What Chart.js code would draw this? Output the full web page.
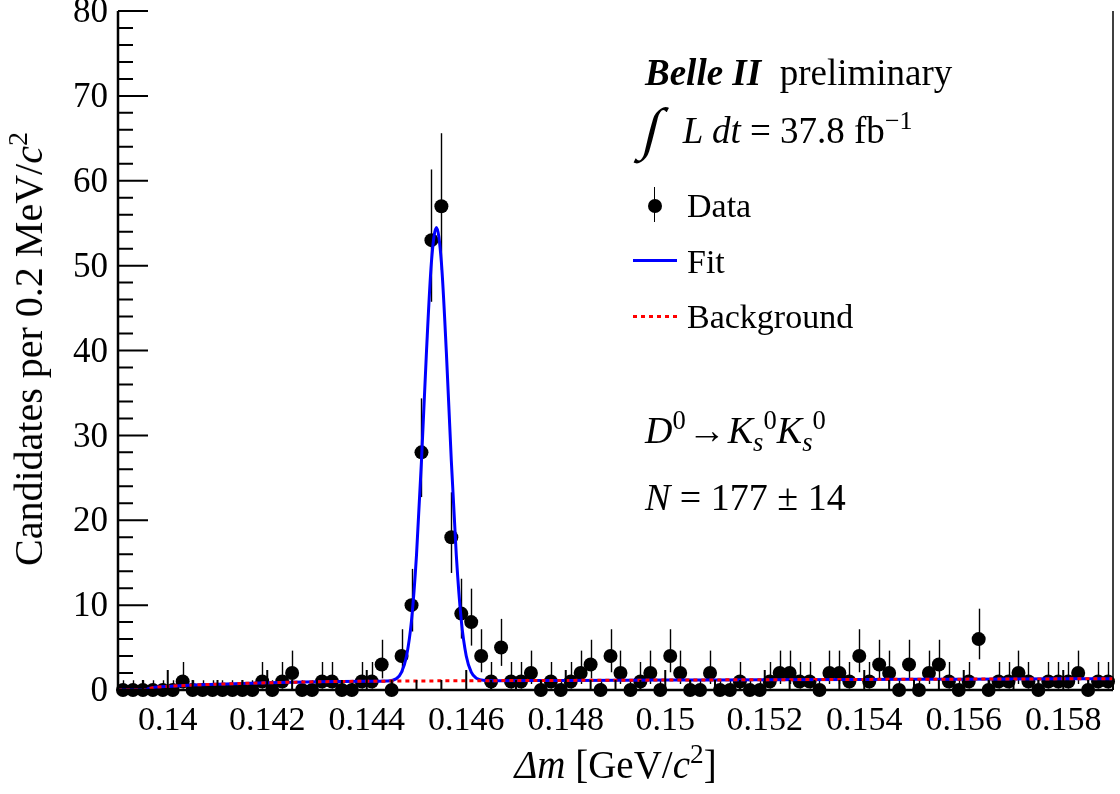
<!DOCTYPE html>
<html>
<head>
<meta charset="utf-8">
<title>D0 -> Ks Ks delta m fit</title>
<script src="https://cdn.jsdelivr.net/npm/chart.js@4.4.1/dist/chart.umd.min.js"></script>
<style>
    html, body { margin: 0; padding: 0; background: #fff; }
    #wrap { position: relative; width: 1120px; height: 794px; overflow: hidden;
            font-family: "Liberation Serif", "Times New Roman", serif; color: #000; }
    #chart { position: absolute; left: 0; top: 0; }
    .txt { position: absolute; white-space: nowrap; line-height: 1; }
    .txt i { font-style: italic; }
    .txt sup, .txt sub { font-size: 0.7em; line-height: 0; position: relative; vertical-align: baseline; }
    .txt sup { top: -0.55em; }
    .txt sub { top: 0.3em; }
    .integral { font-size: 1.55em; line-height: 0; position: relative; top: 0.08em;
                display: inline-block; margin-right: 22px; transform: skewX(-14deg); }
    .mark { position: absolute; }
</style>
</head>
<body>
<div id="wrap">
    <canvas id="chart" width="1120" height="794"></canvas>

    <div class="txt" data-x="645" data-b="85" data-s="37"><b><i>Belle II</i></b>&nbsp; preliminary</div>
    <div class="txt" data-x="645" data-b="143" data-s="37"><span class="integral">∫</span><i>L dt</i> = 37.8 fb<sup>−1</sup></div>

    <div class="mark" style="left:654px; top:187px; width:1.4px; height:35px; background:#000"></div>
    <div class="mark" style="left:648px; top:199px; width:14px; height:14px; border-radius:50%; background:#000"></div>
    <div class="txt" data-x="687" data-b="217" data-s="34">Data</div>

    <div class="mark" style="left:633px; top:259px; width:44px; height:3px; background:#0000ff"></div>
    <div class="txt" data-x="687" data-b="273" data-s="34">Fit</div>

    <div class="mark" style="left:633px; top:315px; width:44px; height:3px;
         background:repeating-linear-gradient(90deg, #ff0000 0 4px, transparent 4px 8px)"></div>
    <div class="txt" data-x="687" data-b="328" data-s="34">Background</div>

    <div class="txt" data-x="645" data-b="443" data-s="38"><i>D</i><sup>0</sup><span style="margin:0 2px">→</span><i>K</i><sub><i>s</i></sub><sup>0</sup><i>K</i><sub><i>s</i></sub><sup>0</sup></div>
    <div class="txt" data-x="645" data-b="510" data-s="38"><i>N</i> = 177 ± 14</div>

    <div class="txt" id="xtitle"><i>Δm</i> [GeV/<i>c</i><sup>2</sup>]</div>
    <div class="txt" id="ytitle">Candidates per 0.2 MeV/<i>c</i><sup>2</sup></div>
</div>

<script>
// bin centres of the Δm histogram [GeV/c^2], 0.2 MeV bins
const binCenters = [
    0.1391, 0.1393, 0.1395, 0.1397, 0.1399, 0.1401, 0.1403, 0.1405, 0.1407, 0.1409,
    0.1411, 0.1413, 0.1415, 0.1417, 0.1419, 0.1421, 0.1423, 0.1425, 0.1427, 0.1429,
    0.1431, 0.1433, 0.1435, 0.1437, 0.1439, 0.1441, 0.1443, 0.1445, 0.1447, 0.1449,
    0.1451, 0.1453, 0.1455, 0.1457, 0.1459, 0.1461, 0.1463, 0.1465, 0.1467, 0.1469,
    0.1471, 0.1473, 0.1475, 0.1477, 0.1479, 0.1481, 0.1483, 0.1485, 0.1487, 0.1489,
    0.1491, 0.1493, 0.1495, 0.1497, 0.1499, 0.1501, 0.1503, 0.1505, 0.1507, 0.1509,
    0.1511, 0.1513, 0.1515, 0.1517, 0.1519, 0.1521, 0.1523, 0.1525, 0.1527, 0.1529,
    0.1531, 0.1533, 0.1535, 0.1537, 0.1539, 0.1541, 0.1543, 0.1545, 0.1547, 0.1549,
    0.1551, 0.1553, 0.1555, 0.1557, 0.1559, 0.1561, 0.1563, 0.1565, 0.1567, 0.1569,
    0.1571, 0.1573, 0.1575, 0.1577, 0.1579, 0.1581, 0.1583, 0.1585, 0.1587, 0.1589
];

// candidates per bin
const counts = [
    0, 0, 0, 0, 0, 0, 1, 0, 0, 0,
    0, 0, 0, 0, 1, 0, 1, 2, 0, 0,
    1, 1, 0, 0, 1, 1, 3, 0, 4, 10,
    28, 53, 57, 18, 9, 8, 4, 1, 5, 1,
    1, 2, 0, 1, 0, 1, 2, 3, 0, 4,
    2, 0, 1, 2, 0, 4, 2, 0, 0, 2,
    0, 0, 1, 0, 0, 1, 2, 2, 1, 1,
    0, 2, 2, 1, 4, 1, 3, 2, 0, 3,
    0, 2, 3, 1, 0, 1, 6, 0, 1, 1,
    2, 1, 0, 1, 1, 1, 2, 0, 1, 1
];

// asymmetric Poisson error bars [down, up] as drawn, keyed by count
const poissonErr = {
    0: [0, 1.15], 1: [0.83, 2.30], 2: [1.29, 2.64], 3: [1.63, 2.92],
    4: [1.91, 3.16], 5: [2.16, 3.38], 6: [2.38, 3.58], 8: [2.77, 3.94],
    9: [2.94, 4.11], 10: [3.11, 4.27], 18: [4.21, 5.29], 28: [5.27, 6.36],
    53: [7.26, 8.33], 57: [7.53, 8.60]
};

// total fit curve
const fitX = [0.139, 0.13957, 0.1396, 0.1397, 0.1398, 0.140, 0.1405, 0.141, 0.142, 0.143, 0.144,
    0.1444, 0.1446, 0.1447, 0.1448, 0.1449, 0.1450, 0.1451, 0.1452, 0.1453, 0.1454,
    0.1455, 0.1456, 0.1457, 0.1458, 0.1459, 0.1460, 0.1461, 0.1462, 0.1464, 0.1466,
    0.148, 0.150, 0.152, 0.154, 0.156, 0.159];
const fitY = [0, 0, 0.12, 0.26, 0.34, 0.42, 0.58, 0.69, 0.85, 0.97, 1.03,
    1.06, 1.35, 2.1, 4.0, 8.2, 15.9, 27, 39.8, 50.4, 54.5,
    50.4, 39.8, 27, 15.9, 8.2, 4.0, 2.1, 1.4, 1.12, 1.09,
    1.13, 1.17, 1.21, 1.25, 1.28, 1.33];

// background component
const bkgX = [0.139, 0.13957, 0.1396, 0.1397, 0.1398, 0.140, 0.1405, 0.141, 0.142, 0.143, 0.144,
    0.146, 0.148, 0.150, 0.152, 0.154, 0.156, 0.159];
const bkgY = [0, 0, 0.12, 0.26, 0.34, 0.42, 0.58, 0.69, 0.85, 0.97, 1.03,
    1.09, 1.13, 1.17, 1.21, 1.25, 1.28, 1.33];

// axis ticks
const xTickValues = [0.14, 0.142, 0.144, 0.146, 0.148, 0.15, 0.152, 0.154, 0.156, 0.158];
const yTickValues = [0, 10, 20, 30, 40, 50, 60, 70, 80];

const FONT = '"Liberation Serif", "Times New Roman", serif';

// place html text by its baseline
document.querySelectorAll('.txt[data-x]').forEach(el => {
    const s = +el.dataset.s;
    el.style.fontSize = s + 'px';
    el.style.left = el.dataset.x + 'px';
    el.style.top = (+el.dataset.b - 0.8375 * s) + 'px';
});

// error bars under the markers
const errorBars = {
    id: 'errorBars',
    beforeDatasetsDraw(chart) {
        const { ctx, scales: { x, y } } = chart;
        ctx.save();
        ctx.strokeStyle = '#000';
        ctx.lineWidth = 1.4;
        binCenters.forEach((c, i) => {
            const n = counts[i];
            const e = poissonErr[n];
            const px = Math.round(x.getPixelForValue(c)) + 0.5;
            ctx.beginPath();
            ctx.moveTo(px, y.getPixelForValue(n - e[0]));
            ctx.lineTo(px, y.getPixelForValue(n + e[1]));
            ctx.stroke();
        });
        ctx.restore();
    }
};

// ROOT style frame with inward ticks
const frameTicks = {
    id: 'frameTicks',
    afterDatasetsDraw(chart) {
        const { ctx, chartArea: a, scales: { x, y } } = chart;
        ctx.save();
        ctx.strokeStyle = '#000';
        ctx.lineWidth = 2;
        ctx.beginPath();
        // x ticks: major 0.002, minor 0.0005
        for (let k = 0; k <= 40; k++) {
            const v = 0.139 + k * 0.0005;
            const px = x.getPixelForValue(v);
            const major = xTickValues.some(t => Math.abs(t - v) < 1e-7);
            ctx.moveTo(px, a.bottom);
            ctx.lineTo(px, a.bottom - (major ? 20 : 10));
        }
        // y ticks: major 10, minor 2
        for (let v = 0; v <= 80; v += 2) {
            const py = y.getPixelForValue(v);
            const major = v % 10 === 0;
            ctx.moveTo(a.left, py);
            ctx.lineTo(a.left + (major ? 30 : 15), py);
        }
        ctx.stroke();
        ctx.lineWidth = 2.5;
        ctx.beginPath();
        ctx.moveTo(a.left, a.top);
        ctx.lineTo(a.left, a.bottom);
        ctx.lineTo(a.right, a.bottom);
        ctx.stroke();
        ctx.lineWidth = 1.5;
        ctx.beginPath();
        ctx.moveTo(a.right, a.bottom);
        ctx.lineTo(a.right, a.top);
        ctx.stroke();
        ctx.restore();

        // axis titles
        const xt = document.getElementById('xtitle');
        const yt = document.getElementById('ytitle');
        xt.style.fontSize = '39px';
        yt.style.fontSize = '40px';
        xt.style.left = ((a.left + a.right) / 2) + 'px';
        xt.style.top = (778 - 0.8375 * 39) + 'px';
        xt.style.transform = 'translateX(-50%)';
        yt.style.left = '29px';
        yt.style.top = ((a.top + a.bottom) / 2 - 2) + 'px';
        yt.style.transform = 'translate(-50%, -50%) rotate(-90deg)';
    }
};

const dataPoints = binCenters.map((c, i) => ({ x: c, y: counts[i] }));
const fitPoints = fitX.map((v, i) => ({ x: v, y: fitY[i] }));
const bkgPoints = bkgX.map((v, i) => ({ x: v, y: bkgY[i] }));

new Chart(document.getElementById('chart'), {
    type: 'line',
    data: {
        datasets: [{
            label: 'Data',
            data: dataPoints,
            showLine: false,
            pointRadius: 7,
            pointBackgroundColor: '#000',
            pointBorderWidth: 0,
            clip: false,
            order: 3
        }, {
            label: 'Fit',
            data: fitPoints,
            borderColor: '#0000ff',
            borderWidth: 3,
            pointRadius: 0,
            cubicInterpolationMode: 'monotone',
            order: 2
        }, {
            label: 'Background',
            data: bkgPoints,
            borderColor: '#ff0000',
            borderWidth: 3,
            borderDash: [4, 4],
            pointRadius: 0,
            cubicInterpolationMode: 'monotone',
            order: 1
        }]
    },
    options: {
        responsive: false,
        animation: false,
        devicePixelRatio: 1,
        layout: { padding: { left: 0, right: 3, top: 11, bottom: 0 } },
        plugins: { legend: { display: false }, tooltip: { enabled: false } },
        scales: {
            x: {
                type: 'linear',
                min: 0.139,
                max: 0.159,
                grid: { display: false, drawTicks: false },
                border: { display: false },
                afterBuildTicks: s => { s.ticks = xTickValues.map(v => ({ value: v })); },
                afterFit: s => { s.height = 104; s.paddingLeft = 0; s.paddingRight = 0; },
                ticks: {
                    color: '#000',
                    font: { family: FONT, size: 34 },
                    padding: 11,
                    maxRotation: 0,
                    autoSkip: false,
                    callback: v => Number(v.toFixed(3)).toString()
                }
            },
            y: {
                min: 0,
                max: 80,
                grid: { display: false, drawTicks: false },
                border: { display: false },
                afterBuildTicks: s => { s.ticks = yTickValues.map(v => ({ value: v })); },
                afterFit: s => { s.width = 118; s.paddingTop = 0; s.paddingBottom = 0; },
                ticks: {
                    color: '#000',
                    font: { family: FONT, size: 35 },
                    padding: 10,
                    labelOffset: 2,
                    autoSkip: false
                }
            }
        }
    },
    plugins: [errorBars, frameTicks]
});
</script>
</body>
</html>
